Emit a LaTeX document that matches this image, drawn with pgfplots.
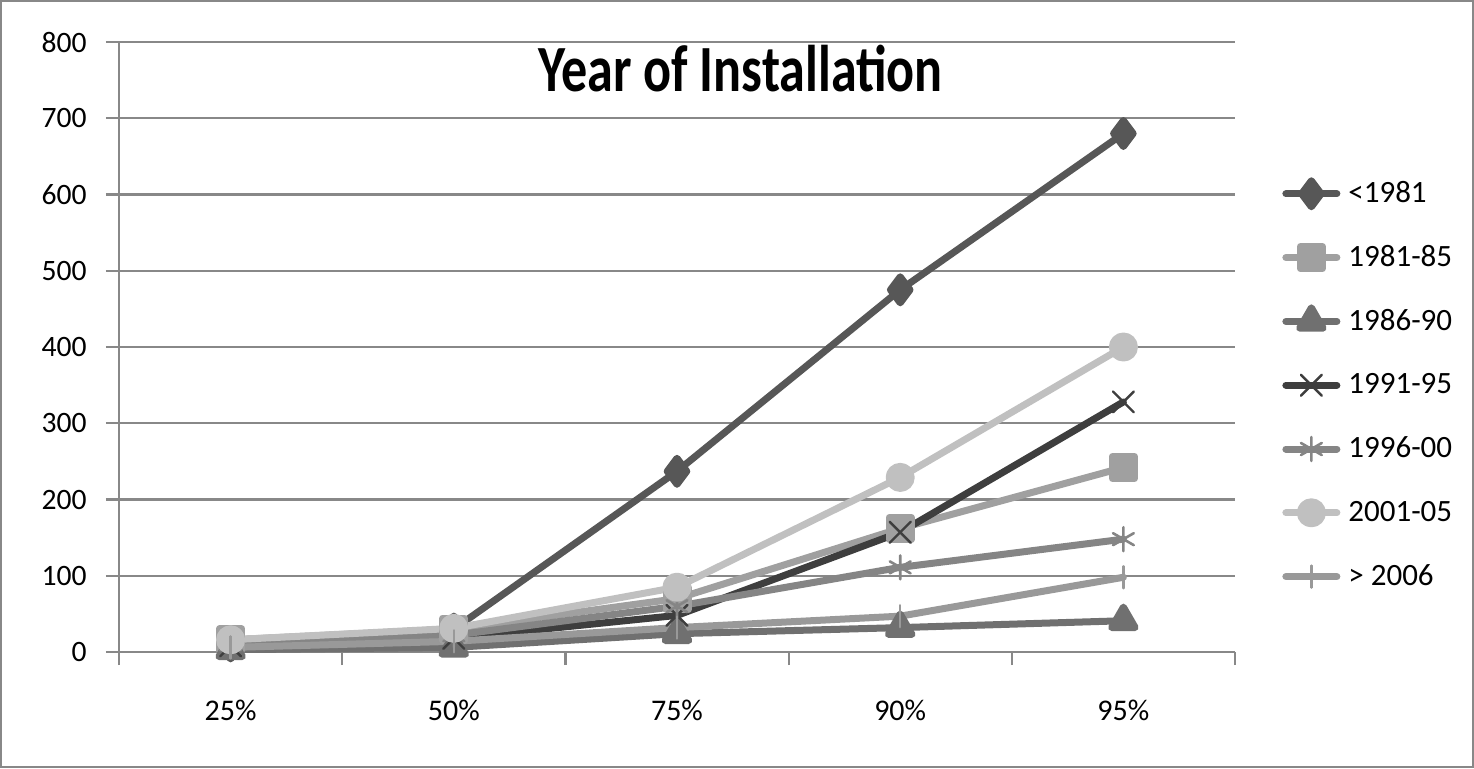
\documentclass[border=0pt]{standalone}
\usepackage{fontspec}
\setmainfont{Carlito}
\newfontfamily\titlefont{Carlito}[FakeStretch=0.79]
\usepackage{pgfplots}
\pgfplotsset{compat=1.18}

\definecolor{gridc}{HTML}{888888}
\definecolor{cA}{HTML}{575757}
\definecolor{cB}{HTML}{A0A0A0}
\definecolor{cC}{HTML}{707070}
\definecolor{cD}{HTML}{3E3E3E}
\definecolor{cE}{HTML}{858585}
\definecolor{cF}{HTML}{C0C0C0}
\definecolor{cG}{HTML}{999999}

\begin{document}
\begin{tikzpicture}[x=1pt,y=1pt]
\draw[gridc, line width=1pt] (0.5,0.5) rectangle (736.5,383.5);
\begin{axis}[
    at={(59.5pt,58pt)}, anchor=south west,
    scale only axis, width=558pt, height=305pt,
    xmin=-0.5, xmax=4.5,
    ymin=0, ymax=800,
    xtick={-0.5,0.5,...,4.5},
    xticklabels={},
    extra x ticks={0,1,2,3,4},
    extra x tick labels={25\%,50\%,75\%,90\%,95\%},
    extra x tick style={major tick length=0pt,
        tick label style={anchor=base, yshift=-34pt, inner sep=0pt}},
    ytick={0,100,...,800},
    ymajorgrids=true,
    grid style={gridc, line width=1.1pt},
    axis x line=bottom, axis y line=left,
    axis line style={-, gridc, line width=1.1pt},
    tick align=outside,
    major tick length=6.5pt,
    tick style={gridc, line width=1.1pt},
    /pgf/number format/assume math mode=true,
    x tick label style={font=\fontsize{15}{18}\selectfont},
    y tick label style={font=\fontsize{14.8}{17}\selectfont, anchor=east, inner sep=0pt, xshift=-9.5pt},
    title={Year of Installation},
    title style={at={(0.557,0.899)}, anchor=base, yshift=0pt, inner sep=0pt,
        font=\titlefont\bfseries\fontsize{33}{40}\selectfont},
    legend style={at={(1.0421,0.4374)}, anchor=west, draw=none, fill=none,
        inner sep=0pt, row sep=15.9pt, /tikz/column sep=0pt,
        /tikz/every odd column/.append style={column sep=4pt},
        font=\fontsize{15.5}{18}\selectfont, nodes={inner sep=0pt}},
    legend cell align=left,
    legend image code/.code={
        \path[draw=none, fill=none] (0pt,-8pt) rectangle (29pt,8pt);
        \draw[mark repeat=2,mark phase=2] plot coordinates {(1.75pt,0pt) (14.5pt,0pt) (27.25pt,0pt)};
    },
    every axis plot/.append style={line width=3.5pt, line join=round, line cap=round},
]

\addplot[cA, mark=diamond*, mark size=6.5pt, mark options={solid, draw=none, fill=cA}]
coordinates {(0,8)(1,30)(2,237)(3,475)(4,680)};
\addplot[cB, mark=square*, mark size=5.5pt, mark options={solid, draw=none, fill=cB}]
coordinates {(0,16)(1,30)(2,70)(3,162)(4,242)};
\addplot[cC, mark=triangle*, mark size=6.8pt, mark options={solid, draw=none, fill=cC}]
coordinates {(0,3)(1,6)(2,24)(3,32)(4,41)};
\addplot[cD, mark=x, mark size=7.4pt, mark options={solid, line width=1.2pt, draw=cD}]
coordinates {(0,8)(1,18)(2,48)(3,157)(4,328)};
\addplot[cE, mark=asterisk, mark size=6pt, mark options={solid, line width=1.3pt, draw=cE}]
coordinates {(0,10)(1,22)(2,60)(3,111)(4,148)};
\addplot[cF, mark=*, mark size=5.5pt, mark options={solid, draw=none, fill=cF}]
coordinates {(0,16)(1,31)(2,85)(3,229)(4,400)};
\addplot[cG, mark=|, mark size=5.5pt, mark options={solid, line width=1.2pt, draw=cG}]
coordinates {(0,6)(1,14)(2,32)(3,47)(4,98)};

\legend{<1981,1981-85,1986-90,1991-95,1996-00,2001-05,> 2006}
\end{axis}
\end{tikzpicture}
\end{document}
